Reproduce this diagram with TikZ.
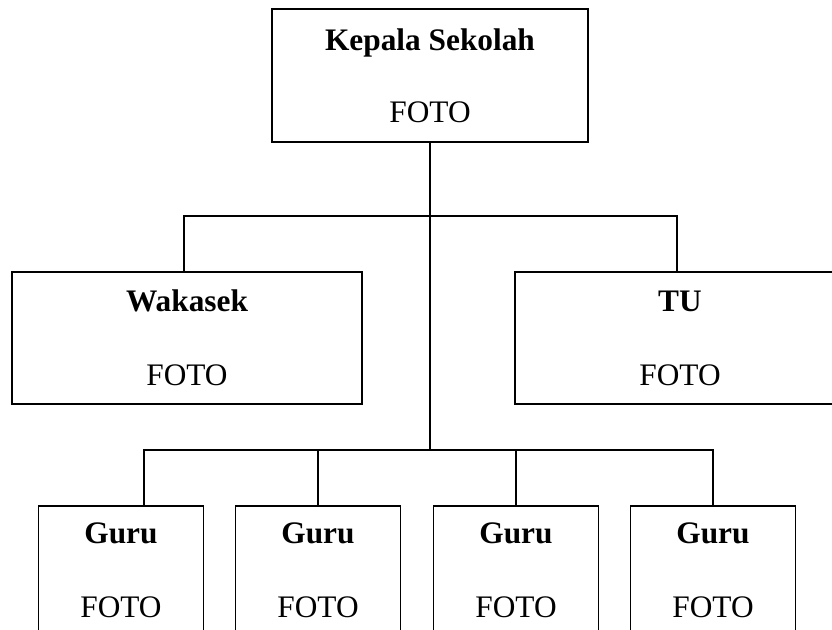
\documentclass[tikz,border=0pt]{standalone}
\usepackage{fontspec}
\setmainfont{Liberation Serif}
\usetikzlibrary{positioning}
\definecolor{orgink}{HTML}{000000}
\definecolor{orgpage}{HTML}{FFFFFF}
\tikzset{
  orgbox/.style={
    draw=orgink,
    line width=1.3pt,
    fill=orgpage,
    align=center,
    inner sep=0pt,
    font=\fontsize{23.5}{28}\selectfont,
    text=orgink
  },
  orghead/.style={
    orgbox,
    minimum width=237pt,
    minimum height=99.75pt
  },
  orgmid/.style={
    orgbox,
    minimum height=99pt
  },
  orgguru/.style={
    orgbox,
    minimum width=123.75pt,
    minimum height=96pt
  },
  orgline/.style={
    line width=1.3pt,
    color=orgink
  }
}

\begin{document}
\begin{tikzpicture}[x=0.75pt,y=-0.75pt]
  \useasboundingbox (0,0) rectangle (832,630);
  \begin{scope}
  \clip (0,0) rectangle (832,630);

  \node[orghead] (kepala) at (430,75.5) {\textbf{Kepala Sekolah}\\[26pt]FOTO};

  \node[orgmid, minimum width=262.5pt] (wakasek) at (187,338) {\textbf{Wakasek}\\[27.5pt]FOTO};
  \node[orgmid, minimum width=247.5pt] (tu) at (680,338) {\textbf{TU}\\[27.5pt]FOTO};

  \node[orgguru] (guru1) at (121,570) {\textbf{Guru}\\[27.5pt]FOTO};
  \node[orgguru] (guru2) at (318,570) {\textbf{Guru}\\[27.5pt]FOTO};
  \node[orgguru] (guru3) at (516,570) {\textbf{Guru}\\[27.5pt]FOTO};
  \node[orgguru] (guru4) at (713,570) {\textbf{Guru}\\[27.5pt]FOTO};

  % bus lines
  \coordinate (busup) at (430,216);
  \coordinate (buslow) at (430,450);
  \coordinate (tapguru) at (144,506);

  \draw[orgline] (kepala.south) -- (buslow);
  \draw[orgline] ([xshift=-2.25pt]wakasek.north) |- (busup) -| ([xshift=-2.25pt]tu.north);
  \draw[orgline] (tapguru) |- (buslow) -| (guru4.north);
  \draw[orgline] (guru2.north) -- (guru2.north |- buslow);
  \draw[orgline] (guru3.north) -- (guru3.north |- buslow);
  \end{scope}
\end{tikzpicture}
\end{document}
